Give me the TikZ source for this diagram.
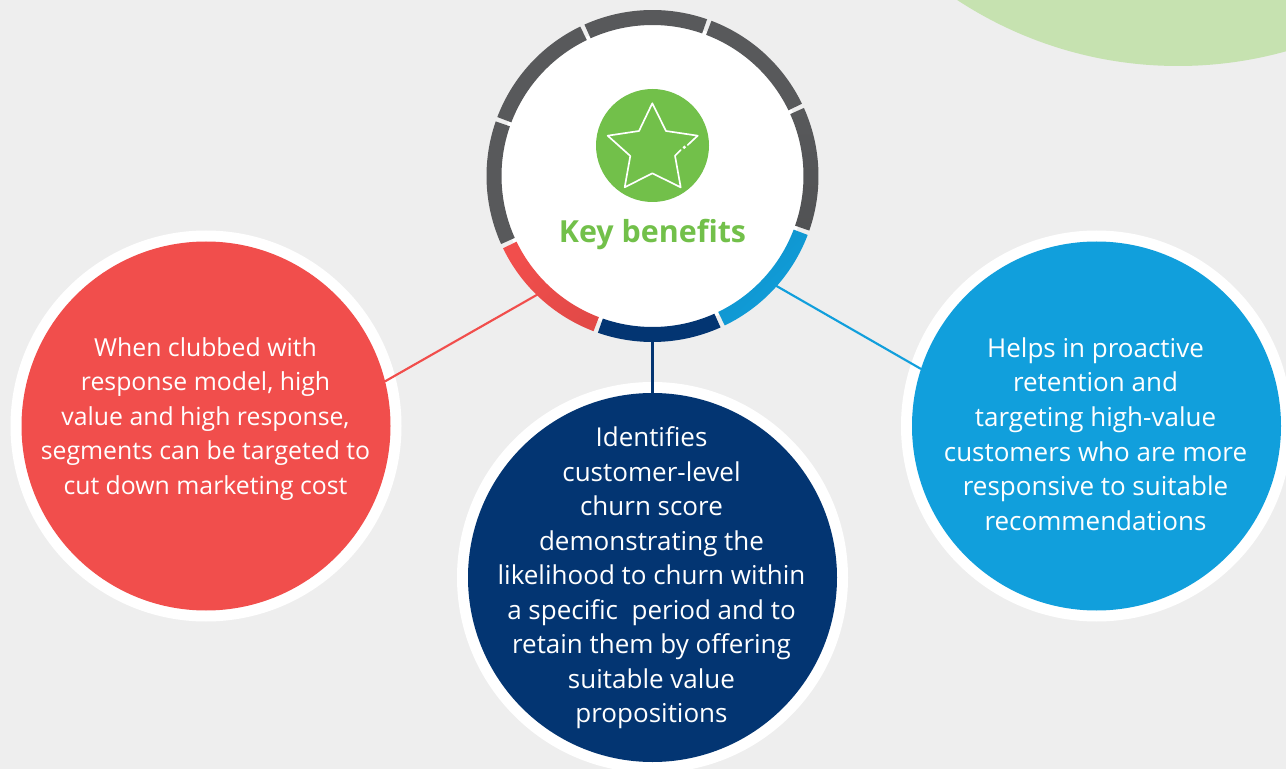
\documentclass[tikz,border=0pt]{standalone}
\usepackage{fontspec}
\setmainfont{Open Sans}
\usetikzlibrary{calc}
\definecolor{bgc}{HTML}{EEEEEE}
\definecolor{greenlt}{HTML}{C6E2B0}
\definecolor{ringgray}{HTML}{58595B}
\definecolor{redc}{HTML}{F14E4C}
\definecolor{navyc}{HTML}{033572}
\definecolor{bluec}{HTML}{119FDC}
\definecolor{greenc}{HTML}{72C04A}
\tikzset{
 x=0.75pt,y=0.75pt,
 bigdisc/.style={circle,minimum size=276.75pt,inner sep=0pt,outer sep=0pt},
 bodytext/.style={text=white,font=\fontsize{19.5}{25.9}\selectfont,align=center,inner sep=0pt},
 redtextstyle/.style={text=white,font=\fontsize{18.6}{25.9}\selectfont,align=center,inner sep=0pt},
 link/.style={line width=1.6pt},
}
\newcommand{\ringseg}[5]{\shade[shading=axis,left color=#3,right color=#4,shading angle=#5]
  ($(hub)+(#1:166)$) arc[start angle=#1,end angle=#2,radius=166]
  -- ($(hub)+(#2:151)$) arc[start angle=#2,end angle=#1,radius=151] -- cycle;}
\begin{document}
\begin{tikzpicture}
\useasboundingbox (0,0) rectangle (1286,769);
\fill[bgc] (0,0) rectangle (1286,769);
\begin{scope}
\clip (0,0) rectangle (1286,769);
\fill[greenlt] (1178,1118) ellipse[x radius=408,y radius=415];
\end{scope}
% white halos
\fill[white] (206,343) circle[radius=195.5];
\fill[white] (652.5,191.5) circle[radius=195.5];
\fill[white] (1096.5,343) circle[radius=195.5];
% discs
\node[bigdisc,fill=redc] (red) at (206,343) {};
\node[bigdisc,fill=navyc] (navy) at (652.5,191.5) {};
\node[bigdisc,fill=bluec] (blue) at (1096.5,343) {};
\node[redtextstyle] (redtext) at (205.5,350) {When clubbed with\\response model, high\\value and high response,\\segments can be targeted to\\cut down marketing cost};
\node[bodytext] (navytext) at (651.5,191) {Identifies\\customer-level\\churn score\\demonstrating the\\likelihood to churn within\\a specific~ period and to\\retain them by offering\\suitable value\\propositions};
\node[bodytext] (bluetext) at (1095.5,335) {Helps in proactive\\retention and\\targeting high-value\\customers who are more\\responsive to suitable\\recommendations};
% hub
\node[circle,fill=white,minimum size=231pt,inner sep=0pt,outer sep=0pt] (hub) at (652.5,593) {};
\coordinate (redout) at ($(hub)+(226.4:160)$);
\coordinate (navyout) at ($(hub)+(270:160)$);
\coordinate (blueout) at ($(hub)+(-42:160)$);
\draw[link,redc] (redout) -- (red.14);
\draw[link,navyc] (navyout) -- (navy.90);
\draw[link,bluec] (blueout) -- (blue.162);
\ringseg{-19.2}{24.2}{ringgray}{ringgray!92!black}{0}
\ringseg{25.8}{69.2}{ringgray}{ringgray}{0}
\ringseg{70.8}{114.2}{ringgray}{ringgray}{0}
\ringseg{115.8}{159.2}{ringgray}{ringgray}{0}
\ringseg{160.8}{204.2}{ringgray}{ringgray}{0}
\ringseg{205.8}{249.2}{redc}{redc!94!black}{45}
\ringseg{250.8}{294.2}{navyc}{navyc}{0}
\ringseg{295.8}{339.2}{bluec!92!black}{bluec}{45}
\node[circle,fill=greenc,minimum size=84.75pt,inner sep=0pt,outer sep=0pt] (badge) at (652.5,623.5) {};
\draw[white,line width=1.25pt,line join=round,line cap=round]
  (675,613.3) -- (680.7,581.7) -- (652.3,595.7) -- (624.7,581.7) -- (630.3,613) -- (607.7,633.3)
  -- (639,638) -- (652.3,665.7) -- (666,638) -- (697.7,633.3) -- (687.7,624)
  (680.7,619) -- (675,613.3);
\fill[white] (684.3,621.7) circle[radius=1.8];
\node[text=greenc,font=\fontsize{22.8}{28}\selectfont\bfseries,inner sep=0pt] (kb) at (652.5,534) {Key benefits};
\end{tikzpicture}
\end{document}
